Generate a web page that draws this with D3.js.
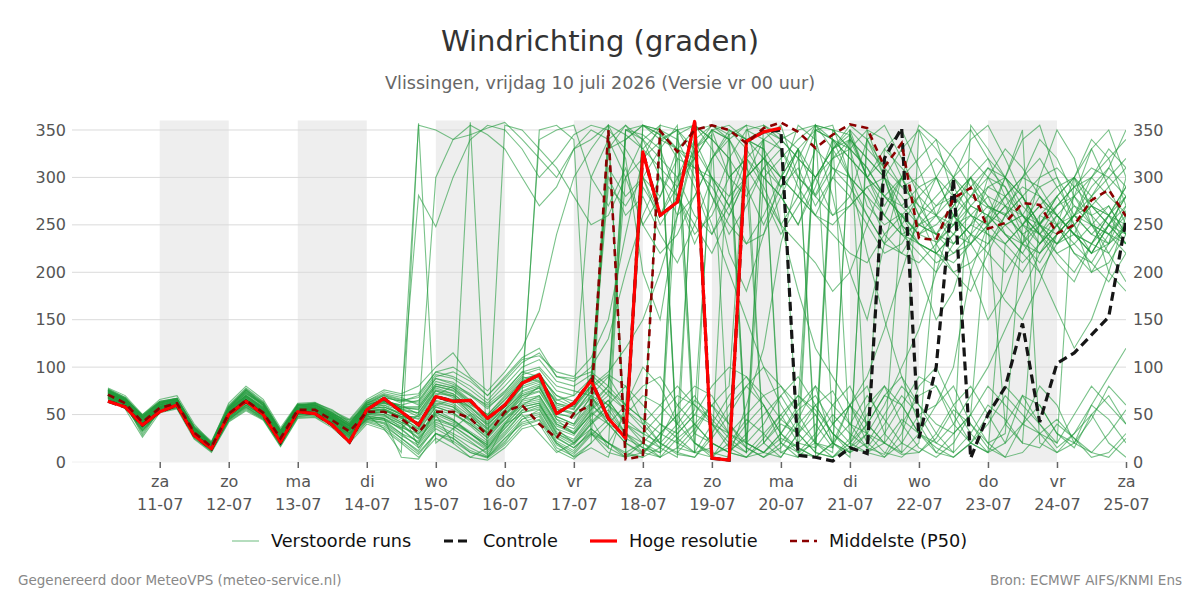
<!DOCTYPE html>
<html>
<head>
<meta charset="utf-8">
<script src="https://cdn.jsdelivr.net/npm/d3@7/dist/d3.min.js"></script>
<style>
  body { margin: 0; background: #fff; }
  svg { font-family: "DejaVu Sans", sans-serif; }
</style>
</head>
<body>
<svg width="1200" height="600"></svg>
<script>

// tijd in uren vanaf vr 10-07 00:00, 6-uurlijkse stappen vanaf 06:00
var startHour = 6;
var stepHours = 6;

var dayTicks = [24, 48, 72, 96, 120, 144, 168, 192, 216, 240, 264, 288, 312, 336, 360];
var dayNames = ["za", "zo", "ma", "di", "wo", "do", "vr", "za", "zo", "ma", "di", "wo", "do", "vr", "za"];
var dayDates = ["11-07", "12-07", "13-07", "14-07", "15-07", "16-07", "17-07", "18-07", "19-07", "20-07", "21-07", "22-07", "23-07", "24-07", "25-07"];
var shadedDays = [24, 72, 120, 168, 216, 264, 312];

var yTicks = [0, 50, 100, 150, 200, 250, 300, 350];

// Hoge resolutie (10 dagen)
var hires = [64, 58, 39, 53, 60, 28, 14, 50, 64, 50, 21, 53, 51, 39, 21, 55, 67, 53, 39, 69,
    64, 65, 46, 60, 83, 92, 51, 62, 86, 46, 25, 327, 260, 274, 359, 4, 2, 338, 348, 352];

// Controle run
var control = [64, 58, 39, 53, 60, 28, 14, 50, 64, 50, 21, 53, 51, 39, 21, 55, 67, 53, 39, 69,
    64, 65, 46, 60, 83, 92, 51, 62, 86, 46, 25, 327, 260, 274, 359, 4, 2, 338, 348, 350,
    7, 5, 1, 15, 9, 320, 352, 25, 100, 299, 4, 50, 79, 146, 42, 104, 115, 134, 153, 255];

// Middelste (P50)
var median = [71, 62, 42, 57, 62, 31, 16, 51, 65, 52, 25, 55, 55, 44, 32, 53, 53, 46, 31, 53,
    53, 46, 28, 53, 60, 40, 25, 51, 60, 350, 3, 6, 349, 327, 350, 355, 350, 336, 352, 358,
    348, 331, 345, 356, 352, 311, 336, 236, 234, 278, 289, 246, 252, 273, 271, 241, 250, 276, 287, 259];

// Verstoorde runs (ensemble leden)
var members = [
    [74,66,45,60,64,33,17,55,70,56,28,58,57,47,35,58,60,50, 45,60,66,58,40,55,72,78,50,48, 62,80,300,320,338,350,330,345,12,25, 340,355,300,282,320,330,270,250,262,240, 232,250,280,268,262,240,252,270,290,300, 280,262],
    [70,60,38,56,60,30,14,48,62,50,23,52,54,42,30,50,35,10, 357,20,35,50,30,45,60,70,40,30, 50,65,40,20,340,330,350,355,345,20, 10,30,60,80,20,5,350,340,300,260, 240,270,300,250,40,20,260,280,300,250, 230,270],
    [77,68,48,63,66,35,18,58,76,60,30,60,60,50,38,62,70,62, 281,248,300,340,355,350,330,300,320,345, 355,350,330,300,280,320,310,290,260,300, 320,340,350,355,330,300,280,240,220,210, 230,250,260,280,270,230,210,240,260,280, 300,320],
    [68,58,35,54,58,28,13,45,58,46,20,48,50,40,26,46,45,35, 20,55,45,30,15,35,55,60,35,20, 40,60,30,15,5,25,40,20,10,30, 50,70,40,20,15,60,80,30,10,350, 330,300,280,310,290,250,230,260,240,220, 250,270],
    [72,64,42,58,63,32,16,52,66,54,26,56,58,48,36,56,58,52, 40,70,80,65,45,60,85,90,60,55, 90,310,280,300,260,290,330,300,270,320, 300,280,250,300,330,345,300,320,290,270, 260,280,300,270,250,260,290,300,270,250, 240,265],
    [75,62,28,55,62,25,12,44,60,48,18,50,52,45,30,44,40,25, 10,30,20,5,15,40,50,30,10,20, 35,20,5,10,30,50,20,8,15,40, 60,30,10,5,20,40,70,45,20,10, 30,60,80,50,20,40,60,30,15,50, 70,40],
    [69,61,44,59,61,36,20,56,72,62,33,59,62,55,42,60,66,58, 55,80,75,60,50,70,90,85,65,70, 300,340,355,330,310,290,320,350,300,280, 310,330,290,260,300,340,320,300,250,230, 220,240,270,260,240,230,250,280,300,270, 250,280],
    [73,65,40,57,65,30,15,50,64,52,24,55,56,46,33,54,52,44, 30,50,20,358,5,40,65,80,45,30, 55,70,350,345,330,355,20,5,30,340, 350,330,10,20,350,345,300,330,350,310, 260,230,250,290,300,260,230,250,300,330, 290,250],
    [76,67,50,64,67,38,22,60,78,64,34,61,60,52,40,64,72,68, 60,85,80,70,60,75,95,100,80,75, 70,40,20,10,25,60,80,70,40,20, 10,5,30,60,75,40,15,8,40,70, 80,50,20,10,40,70,60,30,20,45, 80,60],
    [71,63,43,58,62,31,16,52,68,55,27,57,55,43,28,52,50,42, 35,65,60,45,30,50,70,78,48,40, 70,90,60,290,260,300,320,280,240,270, 310,290,330,300,260,280,340,300,280,250, 240,260,280,300,290,260,240,270,280,260, 270,240],
    [70,60,36,56,60,29,15,47,60,48,22,51,53,41,29,48,46,38, 25,45,40,30,18,38,58,62,30,22, 45,15,350,340,320,300,340,355,350,330, 20,40,30,10,340,330,350,300,240,220, 200,230,250,240,220,200,230,250,260,240, 260,230],
    [74,64,46,61,64,34,19,54,70,57,29,58,59,48,37,57,62,55, 355,350,340,345,352,358,340,320,300,330, 340,355,10,20,5,300,260,240,280,330, 300,320,340,355,350,330,310,280,260,240, 250,270,290,310,300,280,250,230,250,270, 290,310],
    [72,62,30,55,61,27,14,46,62,50,24,53,55,45,34,50,54,48, 48,72,70,55,38,58,75,82,55,52, 75,60,40,30,50,70,60,40,30,50, 70,80,60,350,340,320,300,280,270,290, 300,280,260,250,280,300,320,290,260,240, 230,250],
    [67,59,41,57,60,33,17,53,66,54,30,56,58,50,44,58,64,60, 65,90,95,85,70,90,110,120,90,85, 100,130,200,260,300,280,240,260,300,320, 340,330,300,280,260,270,290,300,250,230, 210,220,240,260,250,230,220,240,260,270, 250,230],
    [75,65,47,62,65,36,18,57,74,60,31,60,57,47,36,60,66,56, 15,35,25,10,5,20,45,55,25,15, 30,10,5,355,340,350,30,20,10,5, 25,50,20,15,40,60,30,10,5,20, 230,260,240,220,200,230,260,250,220,210, 240,260],
    [71,61,39,57,62,30,16,49,63,51,25,54,54,44,31,51,50,36, 50,75,68,52,35,55,80,340,350,355, 300,270,310,250,280,330,290,240,270,300, 340,10,20,40,15,350,330,310,290,300, 320,300,270,260,280,300,290,260,240,230, 250,280],
    [73,63,44,60,63,33,17,54,69,56,28,57,56,46,35,55,58,50, 38,62,58,42,28,48,68,74,45,38, 60,45,25,15,10,30,50,40,20,10, 355,340,320,300,330,350,10,5,20,50, 60,80,40,20,30,250,270,290,300,280, 260,250],
    [70,62,41,58,61,31,15,50,65,53,26,55,55,45,33,53,55,47, 28,55,50,40,25,45,62,66,38,30, 50,330,340,355,350,320,10,15,350,340, 330,300,280,260,240,220,210,240,260,230, 220,200,210,230,250,260,240,220,230,250, 270,240],
    [76,66,49,63,66,35,19,56,73,59,32,59,61,51,41,61,68,64, 70,95,90,80,65,85,105,115,90,88, 95,80,60,45,30,20,40,60,30,15, 5,15,40,60,30,10,20,50,80,60, 40,30,50,80,60,40,30,20,50,80, 60,40],
    [68,58,37,55,59,29,14,48,61,49,21,51,52,42,27,47,44,30, 15,40,30,20,10,28,48,52,22,12, 35,20,10,5,15,350,355,330,300,320, 290,250,280,330,310,290,260,230,220,250, 270,290,260,240,230,250,270,260,240,220, 230,245],
    [72,63,41,58,62,31,15,51,66,53,26,55,56,46,34,54,56,48, 42,68,62,48,34,52,72,350,355,340, 30,20,50,70,60,40,330,350,355,340, 320,300,330,350,340,320,300,280,300,320, 340,320,290,270,260,280,300,310,290,270, 260,290],
    [69,60,33,54,59,28,13,46,59,47,20,50,51,41,28,45,42,30, 22,48,38,25,12,30,52,58,28,18, 40,55,30,10,5,15,35,60,80,350, 340,20,10,30,60,80,40,20,260,280, 300,260,240,230,260,280,250,220,200,230, 260,280],
    [74,65,46,61,65,34,18,55,71,58,30,58,59,49,38,58,63,56, 52,78,72,58,44,62,82,88,62,58, 80,290,270,300,330,280,250,220,260,300, 320,290,310,270,300,280,250,220,230,260, 280,300,320,300,270,250,240,260,280,300, 320,340],
    [71,62,40,57,61,30,15,50,64,52,25,54,55,45,32,52,52,42, 32,58,52,38,22,42,60,64,35,28, 52,40,20,8,30,50,70,40,15,5, 10,30,55,70,40,20,10,30,60,90, 80,40,20,10,230,250,280,260,240,220, 250,240],
    [75,66,47,62,66,35,19,57,75,61,32,60,60,50,39,60,66,58, 58,82,78,62,50,68,88,92,70,60, 85,300,260,280,240,210,250,300,270,230, 260,300,330,280,310,300,280,260,240,230, 220,240,260,250,230,210,230,250,270,260, 240,220],
    [68,59,34,54,58,27,12,45,57,46,19,49,50,40,25,45,41,28, 18,42,35,22,8,25,45,50,20,10, 30,15,5,20,40,25,10,5,20,45, 30,10,5,25,50,30,15,40,70,50, 20,10,30,60,45,20,15,40,25,10, 30,55],
    [76,67,49,64,67,37,21,59,77,63,34,61,62,52,42,63,71,66, 62,88,82,72,58,72,92,98,75,70, 88,70,55,40,60,80,60,45,25,10, 300,280,250,290,340,300,260,230,250,280, 260,250,270,290,280,260,250,270,290,310, 300,280],
    [72,63,42,58,62,31,16,52,67,54,27,56,56,46,34,54,55,46, 36,60,55,44,32,50,66,70,42,35, 58,80,350,355,345,330,320,350,340,20, 10,25,15,5,330,340,320,300,270,250, 240,220,230,250,270,290,280,260,240,230, 220,250],
    [73,64,43,59,63,32,17,53,68,55,28,57,57,47,35,56,58,50, 46,70,66,50,36,54,74,80,52,46, 68,50,30,20,10,345,355,340,320,10, 30,50,70,50,20,10,30,330,310,290, 270,280,300,320,300,270,250,240,260,290, 310,290],
    [70,61,39,56,61,30,15,49,63,51,24,53,54,44,31,50,48,40, 26,52,44,32,20,40,58,62,32,24, 48,65,40,25,15,35,55,320,340,355, 280,240,270,300,320,340,300,260,300,270, 240,230,250,270,260,240,220,240,260,250, 240,230],
    [77,68,48,63,67,36,20,58,76,62,33,60,61,51,40,62,70,65, 68,92,88,76,62,80,100,108,85,80, 92,75,60,80,90,60,40,20,10,5, 20,45,70,55,30,15,40,70,60,30, 15,5,20,40,70,50,30,10,20,60, 45,20],
    [67,58,32,53,57,27,12,44,56,45,18,48,49,39,24,43,38,25, 12,38,28,15,6,22,42,48,18,8, 28,45,340,355,350,330,310,300,280,300, 320,300,280,260,250,270,290,260,240,250, 260,240,230,250,270,260,240,230,250,270, 260,240],
    [78,70,50,66,70,40,20,62,80,66,36,62,63,54,45,66,76,72, 80,100,115,90,75,95,120,160,240,300, 330,355,320,200,150,260,340,300,220,180, 240,300,355,340,280,200,150,230,300,355, 340,280,200,150,180,230,300,350,320,260, 200,180],
    [66,56,26,52,56,24,10,42,54,44,16,46,47,36,20,40,34,20, 5,25,15,5,2,15,35,40,12,3, 20,355,345,330,350,10,5,25,50,80, 60,20,5,355,340,20,40,70,90,60, 30,10,355,330,300,350,20,10,30,60, 90,120],
    [74,64,44,60,64,34,18,56,70,58,30,60,58,48,38,60,64,60, 50,300,340,355,345,330,300,270,290,330, 350,340,300,250,220,240,280,320,350,340, 330,250,180,120,90,60,40,20,10,30, 60,100,200,250,300,340,355,300,250,200, 230,300],
    [70,61,40,57,60,30,15,50,64,52,25,55,52,40,26,48,46,5, 3,30,25,12,5,25,40,45,20,5, 15,5,60,100,80,40,20,10,5,60, 120,230,300,350,355,300,220,150,90,40, 10,30,50,20,5,40,80,60,20,10, 5,25],
    [73,65,46,62,66,36,19,56,72,60,31,58,60,52,40,62,68,64, 64,88,84,70,56,74,95,90,70,64, 80,95,120,150,200,260,330,355,340,310, 280,250,230,210,180,200,250,300,330,350, 300,260,230,200,170,150,190,240,280,330, 350,300],
    [69,59,36,55,59,28,13,46,58,47,20,50,50,40,28,46,44,36, 30,52,44,30,18,355,350,330,310,280, 250,260,300,340,355,350,320,280,250,230, 240,280,320,355,40,60,20,5,30,80, 100,60,30,10,20,70,40,15,30,50, 20,5],
    [75,67,48,63,67,37,20,58,76,62,33,60,62,53,44,64,74,70, 72,95,100,88,70,88,108,112,95,90, 110,150,240,320,355,20,10,40,70,90, 60,30,15,5,20,60,90,140,200,260, 300,330,350,320,280,240,200,160,120,150, 200,260],
    [71,62,41,58,62,31,16,51,65,53,26,55,55,45,33,53,54,46, 40,64,58,45,30,50,70,75,48,40, 62,40,30,355,345,15,10,350,340,300, 20,5,30,50,20,10,340,355,320,280, 230,200,180,220,260,300,340,320,280,250, 220,190],
    [72,63,43,59,63,33,17,53,68,55,28,56,57,48,36,55,60,54, 52,76,72,57,42,60,78,84,58,52, 70,60,45,30,20,40,65,50,30,20, 40,70,90,60,30,15,10,20,45,30, 10,5,20,50,80,60,40,20,300,340, 320,270],
    [68,60,38,55,59,29,14,47,60,49,22,51,52,42,30,49,46,34, 20,44,38,26,14,32,52,56,26,15, 32,20,8,5,350,340,300,250,200,150, 100,60,30,10,5,20,50,80,60,30, 20,40,70,100,140,180,220,250,230,210, 190,220],
    [76,66,47,62,66,35,19,57,74,60,32,59,60,50,38,59,64,58, 58,82,78,64,48,66,86,94,66,58, 80,345,20,300,250,280,230,270,320,290, 250,290,330,20,10,350,300,270,300,260, 220,210,230,260,240,220,250,280,250,220, 250,230],
    [70,61,40,56,61,30,15,49,63,51,24,53,53,43,30,50,49,40, 24,50,42,30,16,36,54,60,30,20, 42,60,80,40,20,10,30,60,40,15, 5,20,45,80,60,40,30,60,100,140, 200,260,300,280,240,220,200,230,260,300, 330,310],
    [73,64,45,60,64,34,18,55,70,57,29,58,58,49,37,57,62,56, 48,75,70,52,40,58,80,86,56,50, 75,330,355,340,300,260,280,320,345,355, 350,340,320,300,330,355,340,310,250,200, 150,180,240,300,330,310,280,250,220,200, 210,240],
    [67,58,33,53,57,26,11,43,55,45,17,47,48,38,22,42,36,22, 8,30,22,10,4,18,38,44,15,6, 20,40,60,45,20,8,5,30,60,80, 100,80,50,20,5,15,30,20,8,10, 25,55,40,15,5,10,30,45,25,5, 10,30],
    [74,65,44,61,65,33,18,54,69,56,29,57,59,49,39,58,63,57, 56,80,76,62,48,65,85,90,62,56, 78,92,80,60,40,30,50,80,100,90, 70,45,30,355,350,330,310,280,260,240, 260,300,340,355,320,280,250,230,240,280, 310,350],
    [71,62,42,58,62,32,16,51,66,54,27,56,56,46,34,54,56,48, 34,58,52,40,26,46,64,68,40,32, 56,75,55,35,15,5,355,340,320,350, 355,345,330,10,5,25,60,80,40,15, 5,20,50,260,300,280,240,210,190,230, 260,290]
];

var svg = d3.select("svg");

var plotLeft = 72, plotRight = 1126, plotTop = 120.5, plotBottom = 462;

var x = d3.scaleLinear()
    .domain([-6.5, 360])
    .range([plotLeft, plotRight]);

var y = d3.scaleLinear()
    .domain([0, 360])
    .range([plotBottom, plotTop]);

// titels
svg.append("text")
    .attr("x", 600).attr("y", 51)
    .attr("text-anchor", "middle")
    .attr("font-size", "29px")
    .attr("fill", "#333")
    .text("Windrichting (graden)");

svg.append("text")
    .attr("x", 600).attr("y", 89)
    .attr("text-anchor", "middle")
    .attr("font-size", "17.6px")
    .attr("fill", "#666")
    .text("Vlissingen, vrijdag 10 juli 2026 (Versie vr 00 uur)");

// grijze banden om de dag
svg.append("g").selectAll("rect")
    .data(shadedDays)
    .enter().append("rect")
    .attr("x", function (d) { return x(d); })
    .attr("width", function (d) { return x(d + 24) - x(d); })
    .attr("y", y(360))
    .attr("height", y(0) - y(360))
    .attr("fill", "#eeeeee");

// rasterlijnen
svg.append("g").selectAll("line")
    .data(yTicks)
    .enter().append("line")
    .attr("x1", plotLeft).attr("x2", plotRight)
    .attr("y1", function (d) { return y(d); })
    .attr("y2", function (d) { return y(d); })
    .attr("stroke", function (d) { return d === 0 ? "#f0f0f0" : "#dadada"; })
    .attr("stroke-width", 1);

// assen
var yLeft = svg.append("g")
    .attr("transform", "translate(" + plotLeft + ",0)")
    .call(d3.axisLeft(y).tickValues(yTicks).tickSize(0).tickPadding(6));
var yRight = svg.append("g")
    .attr("transform", "translate(" + plotRight + ",0)")
    .call(d3.axisRight(y).tickValues(yTicks).tickSize(0).tickPadding(7));

[yLeft, yRight].forEach(function (g) {
    g.select(".domain").remove();
    g.selectAll("text")
        .attr("font-family", "DejaVu Sans, sans-serif")
        .attr("font-size", "16px")
        .attr("fill", "#555");
});

var xAxis = svg.append("g")
    .attr("transform", "translate(0," + plotBottom + ")")
    .call(d3.axisBottom(x).tickValues(dayTicks).tickSize(6).tickPadding(8)
        .tickFormat(function (d, i) { return dayNames[i]; }));

xAxis.select(".domain").remove();
xAxis.selectAll("line").attr("stroke", "#666").attr("stroke-width", 1.5);
xAxis.selectAll("text")
    .attr("font-family", "DejaVu Sans, sans-serif")
    .attr("font-size", "16px")
    .attr("fill", "#555")
    .each(function (d, i) {
        d3.select(this).append("tspan")
            .attr("x", 0)
            .attr("dy", "1.4em")
            .text(dayDates[i]);
    });

// lijnen
svg.append("clipPath").attr("id", "plotClip")
    .append("rect")
    .attr("x", plotLeft).attr("y", 100)
    .attr("width", plotRight - plotLeft).attr("height", 370);

var line = d3.line()
    .x(function (d, i) { return x(startHour + i * stepHours); })
    .y(function (d) { return y(d); });

var plot = svg.append("g").attr("clip-path", "url(#plotClip)");

plot.selectAll(".member")
    .data(members)
    .enter().append("path")
    .attr("class", "member")
    .attr("d", line)
    .attr("fill", "none")
    .attr("stroke", "#1f9a3a")
    .attr("stroke-opacity", 0.6)
    .attr("stroke-width", 1.1);

plot.append("path")
    .attr("d", line(control))
    .attr("fill", "none")
    .attr("stroke", "#151515")
    .attr("stroke-width", 3.2)
    .attr("stroke-dasharray", "9,5");

plot.append("path")
    .attr("d", line(hires))
    .attr("fill", "none")
    .attr("stroke", "#ff0000")
    .attr("stroke-width", 3.2)
    .attr("stroke-linejoin", "round");

plot.append("path")
    .attr("d", line(median))
    .attr("fill", "none")
    .attr("stroke", "#8b0000")
    .attr("stroke-width", 2.6)
    .attr("stroke-dasharray", "7,5");

// legenda
var legendItems = [
    { label: "Verstoorde runs", x: 232, color: "#1f9a3a", width: 1.1, opacity: 0.6, dash: null },
    { label: "Controle", x: 444, color: "#151515", width: 3.2, opacity: 1, dash: "9,5" },
    { label: "Hoge resolutie", x: 590, color: "#ff0000", width: 3.2, opacity: 1, dash: null },
    { label: "Middelste (P50)", x: 790, color: "#8b0000", width: 2.6, opacity: 1, dash: "7,5" }
];

var legend = svg.append("g").attr("transform", "translate(0,541)");

legendItems.forEach(function (d) {
    legend.append("line")
        .attr("x1", d.x).attr("x2", d.x + 27)
        .attr("y1", 0).attr("y2", 0)
        .attr("stroke", d.color)
        .attr("stroke-width", d.width)
        .attr("stroke-opacity", d.opacity)
        .attr("stroke-dasharray", d.dash);
    legend.append("text")
        .attr("x", d.x + 39).attr("y", 6)
        .attr("font-size", "17.7px")
        .attr("fill", "#111")
        .text(d.label);
});

// voettekst
svg.append("text")
    .attr("x", 18).attr("y", 585)
    .attr("font-size", "13.5px")
    .attr("fill", "#888")
    .text("Gegenereerd door MeteoVPS (meteo-service.nl)");

svg.append("text")
    .attr("x", 1182).attr("y", 585)
    .attr("text-anchor", "end")
    .attr("font-size", "13.5px")
    .attr("fill", "#888")
    .text("Bron: ECMWF AIFS/KNMI Ens");

</script>
</body>
</html>
